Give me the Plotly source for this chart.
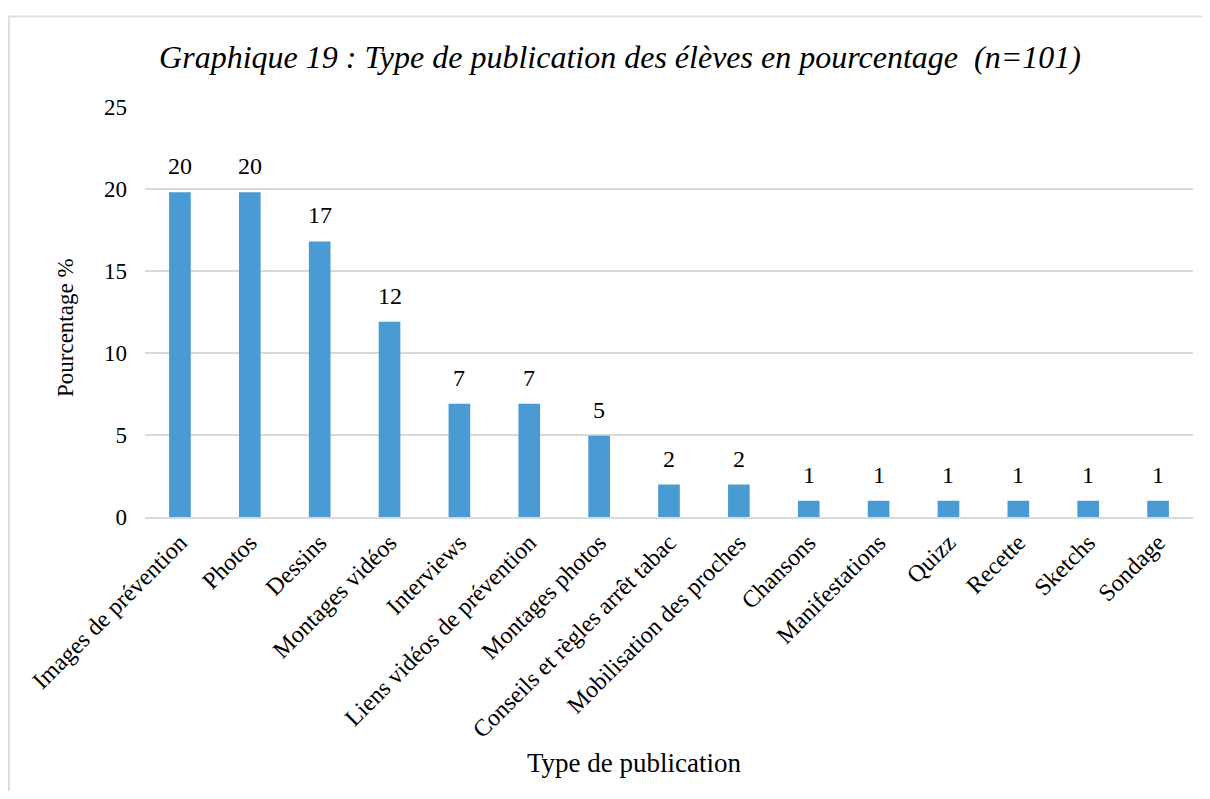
import plotly.graph_objects as go

categories = ["Images de prévention", "Photos", "Dessins", "Montages vidéos", "Interviews",
              "Liens vidéos de prévention", "Montages photos", "Conseils et règles arrêt tabac",
              "Mobilisation des proches", "Chansons", "Manifestations", "Quizz", "Recette",
              "Sketchs", "Sondage"]
values = [19.8, 19.8, 16.8, 11.9, 6.9, 6.9, 4.95, 1.98, 1.98, 0.99, 0.99, 0.99, 0.99, 0.99, 0.99]
labels = ["20", "20", "17", "12", "7", "7", "5", "2", "2", "1", "1", "1", "1", "1", "1"]
y_ticks = [0, 5, 10, 15, 20, 25]

FONT = "'Liberation Serif', 'Times New Roman', serif"
OFF = 8  # page body margin
W, H = 1194, 783
L = 145 - OFF
R = W - (1193 - OFF)
T = 107 - OFF
B = H - (517 - OFF)
pw, ph = W - L - R, H - T - B


def px_x(p):
    return (p - OFF - L) / pw


def px_y(p):
    return (H - B - (p - OFF)) / ph


fig = go.Figure()
fig.add_trace(go.Bar(x=categories, y=values, marker=dict(color="#4a9ad3", line=dict(width=0)),
                     hoverinfo="x+y"))

for c, v, t in zip(categories, values, labels):
    fig.add_annotation(x=c, y=v, xref="x", yref="y", text=t, showarrow=False,
                       yanchor="bottom", yshift=11, font=dict(family=FONT, size=24, color="#000"))

fig.add_annotation(xref="paper", yref="paper", x=px_x(634), y=px_y(763), text="Type de publication",
                   showarrow=False, xanchor="center", yanchor="middle",
                   font=dict(family=FONT, size=27, color="#000"))
fig.add_annotation(xref="paper", yref="paper", x=px_x(65), y=px_y(328), text="Pourcentage %",
                   showarrow=False, textangle=-90, xanchor="center", yanchor="middle",
                   font=dict(family=FONT, size=23, color="#000"))

fig.add_shape(type="rect", xref="paper", yref="paper", x0=px_x(9), x1=px_x(1230),
              y0=px_y(830), y1=px_y(16.5), line=dict(color="#dedede", width=2), layer="below")

fig.update_layout(
    width=W, height=H,
    margin=dict(l=L, r=R, t=T, b=B, autoexpand=False),
    paper_bgcolor="white", plot_bgcolor="white",
    font=dict(family=FONT, color="#000"),
    bargap=0.69,
    showlegend=False,
    title=dict(text="<i>Graphique 19 : Type de publication des élèves en pourcentage  (n=101)</i>",
               x=(620 - OFF) / W, xanchor="center", y=1 - (57 - OFF) / H, yanchor="middle",
               font=dict(family=FONT, size=32, color="#000")),
    xaxis=dict(tickangle=-45, tickfont=dict(family=FONT, size=24, color="#000"),
               showline=True, linecolor="#d9d9d9", linewidth=2, ticks="", showgrid=False,
               automargin=False),
    yaxis=dict(range=[0, 25], tickvals=y_ticks, tickfont=dict(family=FONT, size=23, color="#000"),
               showgrid=True, gridcolor="#d9d9d9", gridwidth=1.5, zeroline=False, showline=False,
               ticks="", ticklabelstandoff=17, automargin=False),
)

fig.write_html("out.html")
